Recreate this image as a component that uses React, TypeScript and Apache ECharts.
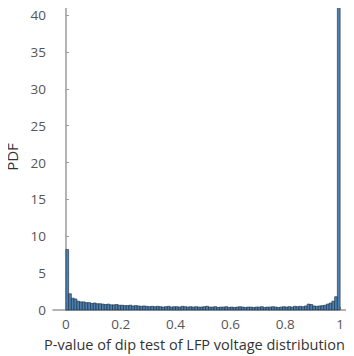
import React, { useEffect, useRef } from "react";
import * as echarts from "echarts";

// Histogram bins (width 0.01) over [0, 1]
const binWidth = 0.01;
const pdfValues: number[] = [
  8.2, 2.2, 1.6, 1.5, 1.2, 1.1, 1.1, 1.0, 1.0, 0.9,
  0.95, 0.85, 0.85, 0.8, 0.75, 0.8, 0.7, 0.7, 0.75, 0.65,
  0.65, 0.6, 0.6, 0.65, 0.55, 0.6, 0.55, 0.5, 0.55, 0.5,
  0.45, 0.5, 0.45, 0.5, 0.45, 0.4, 0.45, 0.5, 0.4, 0.45,
  0.45, 0.4, 0.5, 0.45, 0.4, 0.45, 0.4, 0.45, 0.4, 0.4,
  0.45, 0.5, 0.4, 0.4, 0.45, 0.35, 0.4, 0.4, 0.45, 0.35,
  0.4, 0.35, 0.4, 0.45, 0.4, 0.35, 0.4, 0.4, 0.35, 0.4,
  0.4, 0.45, 0.35, 0.4, 0.4, 0.45, 0.4, 0.35, 0.4, 0.45,
  0.4, 0.45, 0.4, 0.5, 0.45, 0.5, 0.45, 0.55, 0.8, 0.75,
  0.55, 0.5, 0.55, 0.6, 0.65, 0.8, 0.95, 1.2, 1.8, 41.3,
];
const xTicks = [0, 0.2, 0.4, 0.6, 0.8, 1];
const xTitle = "P-value of dip test of LFP voltage distribution";
const yTitle = "PDF";

export default function App() {
  const ref = useRef<HTMLDivElement>(null);
  useEffect(() => {
    if (!ref.current) return;
    const chart = echarts.init(ref.current, null, { renderer: "svg" });
    const data = pdfValues.map((v, i) => [i * binWidth, (i + 1) * binWidth, v]);
    const font = "'Open Sans', 'Noto Sans', sans-serif";
    chart.setOption({
      animation: false,
      grid: { left: 53, right: 4, top: 4, bottom: 46, outerBoundsMode: "none", containLabel: false },
      xAxis: {
        type: "value",
        min: -0.047,
        max: 1.036,
        name: xTitle,
        nameLocation: "middle",
        nameGap: 27,
        nameTextStyle: { color: "#333", fontSize: 14.5, fontFamily: font, padding: [0, 14, 0, 0] },
        axisLine: { lineStyle: { color: "#9a9a9a", width: 1.5 } },
        axisTick: { show: true, inside: true, length: 3, customValues: xTicks, lineStyle: { color: "#9a9a9a" } },
        axisLabel: {
          customValues: xTicks,
          color: "#555",
          fontSize: 13.5,
          fontFamily: font,
          margin: 7,
          formatter: (v: number) => String(Math.round(v * 10) / 10),
        },
        splitLine: { show: false },
      },
      yAxis: {
        type: "value",
        min: 0,
        max: 41.5,
        interval: 5,
        name: yTitle,
        nameLocation: "middle",
        nameGap: 25,
        nameTextStyle: { color: "#333", fontSize: 15, fontFamily: font },
        axisLine: { show: true, lineStyle: { color: "#9a9a9a", width: 1.5 } },
        axisTick: { show: true, inside: true, length: 3, lineStyle: { color: "#9a9a9a" } },
        axisLabel: { color: "#555", fontSize: 13.5, fontFamily: font, margin: 7 },
        splitLine: { show: false },
      },
      series: [
        {
          type: "custom",
          data,
          encode: { x: [0, 1], y: 2 },
          renderItem: (params: any, api: any) => {
            const p0 = api.coord([api.value(0), api.value(2)]);
            const p1 = api.coord([api.value(1), 0]);
            return {
              type: "rect",
              shape: { x: p0[0], y: p0[1], width: p1[0] - p0[0], height: p1[1] - p0[1] },
              style: { fill: "#4a82b8", stroke: "#1c2633", lineWidth: 0.6 },
            };
          },
        },
      ],
    });
    return () => chart.dispose();
  }, []);
  return <div ref={ref} style={{ width: 354, height: 356, marginLeft: -8, marginTop: -8 }} />;
}
